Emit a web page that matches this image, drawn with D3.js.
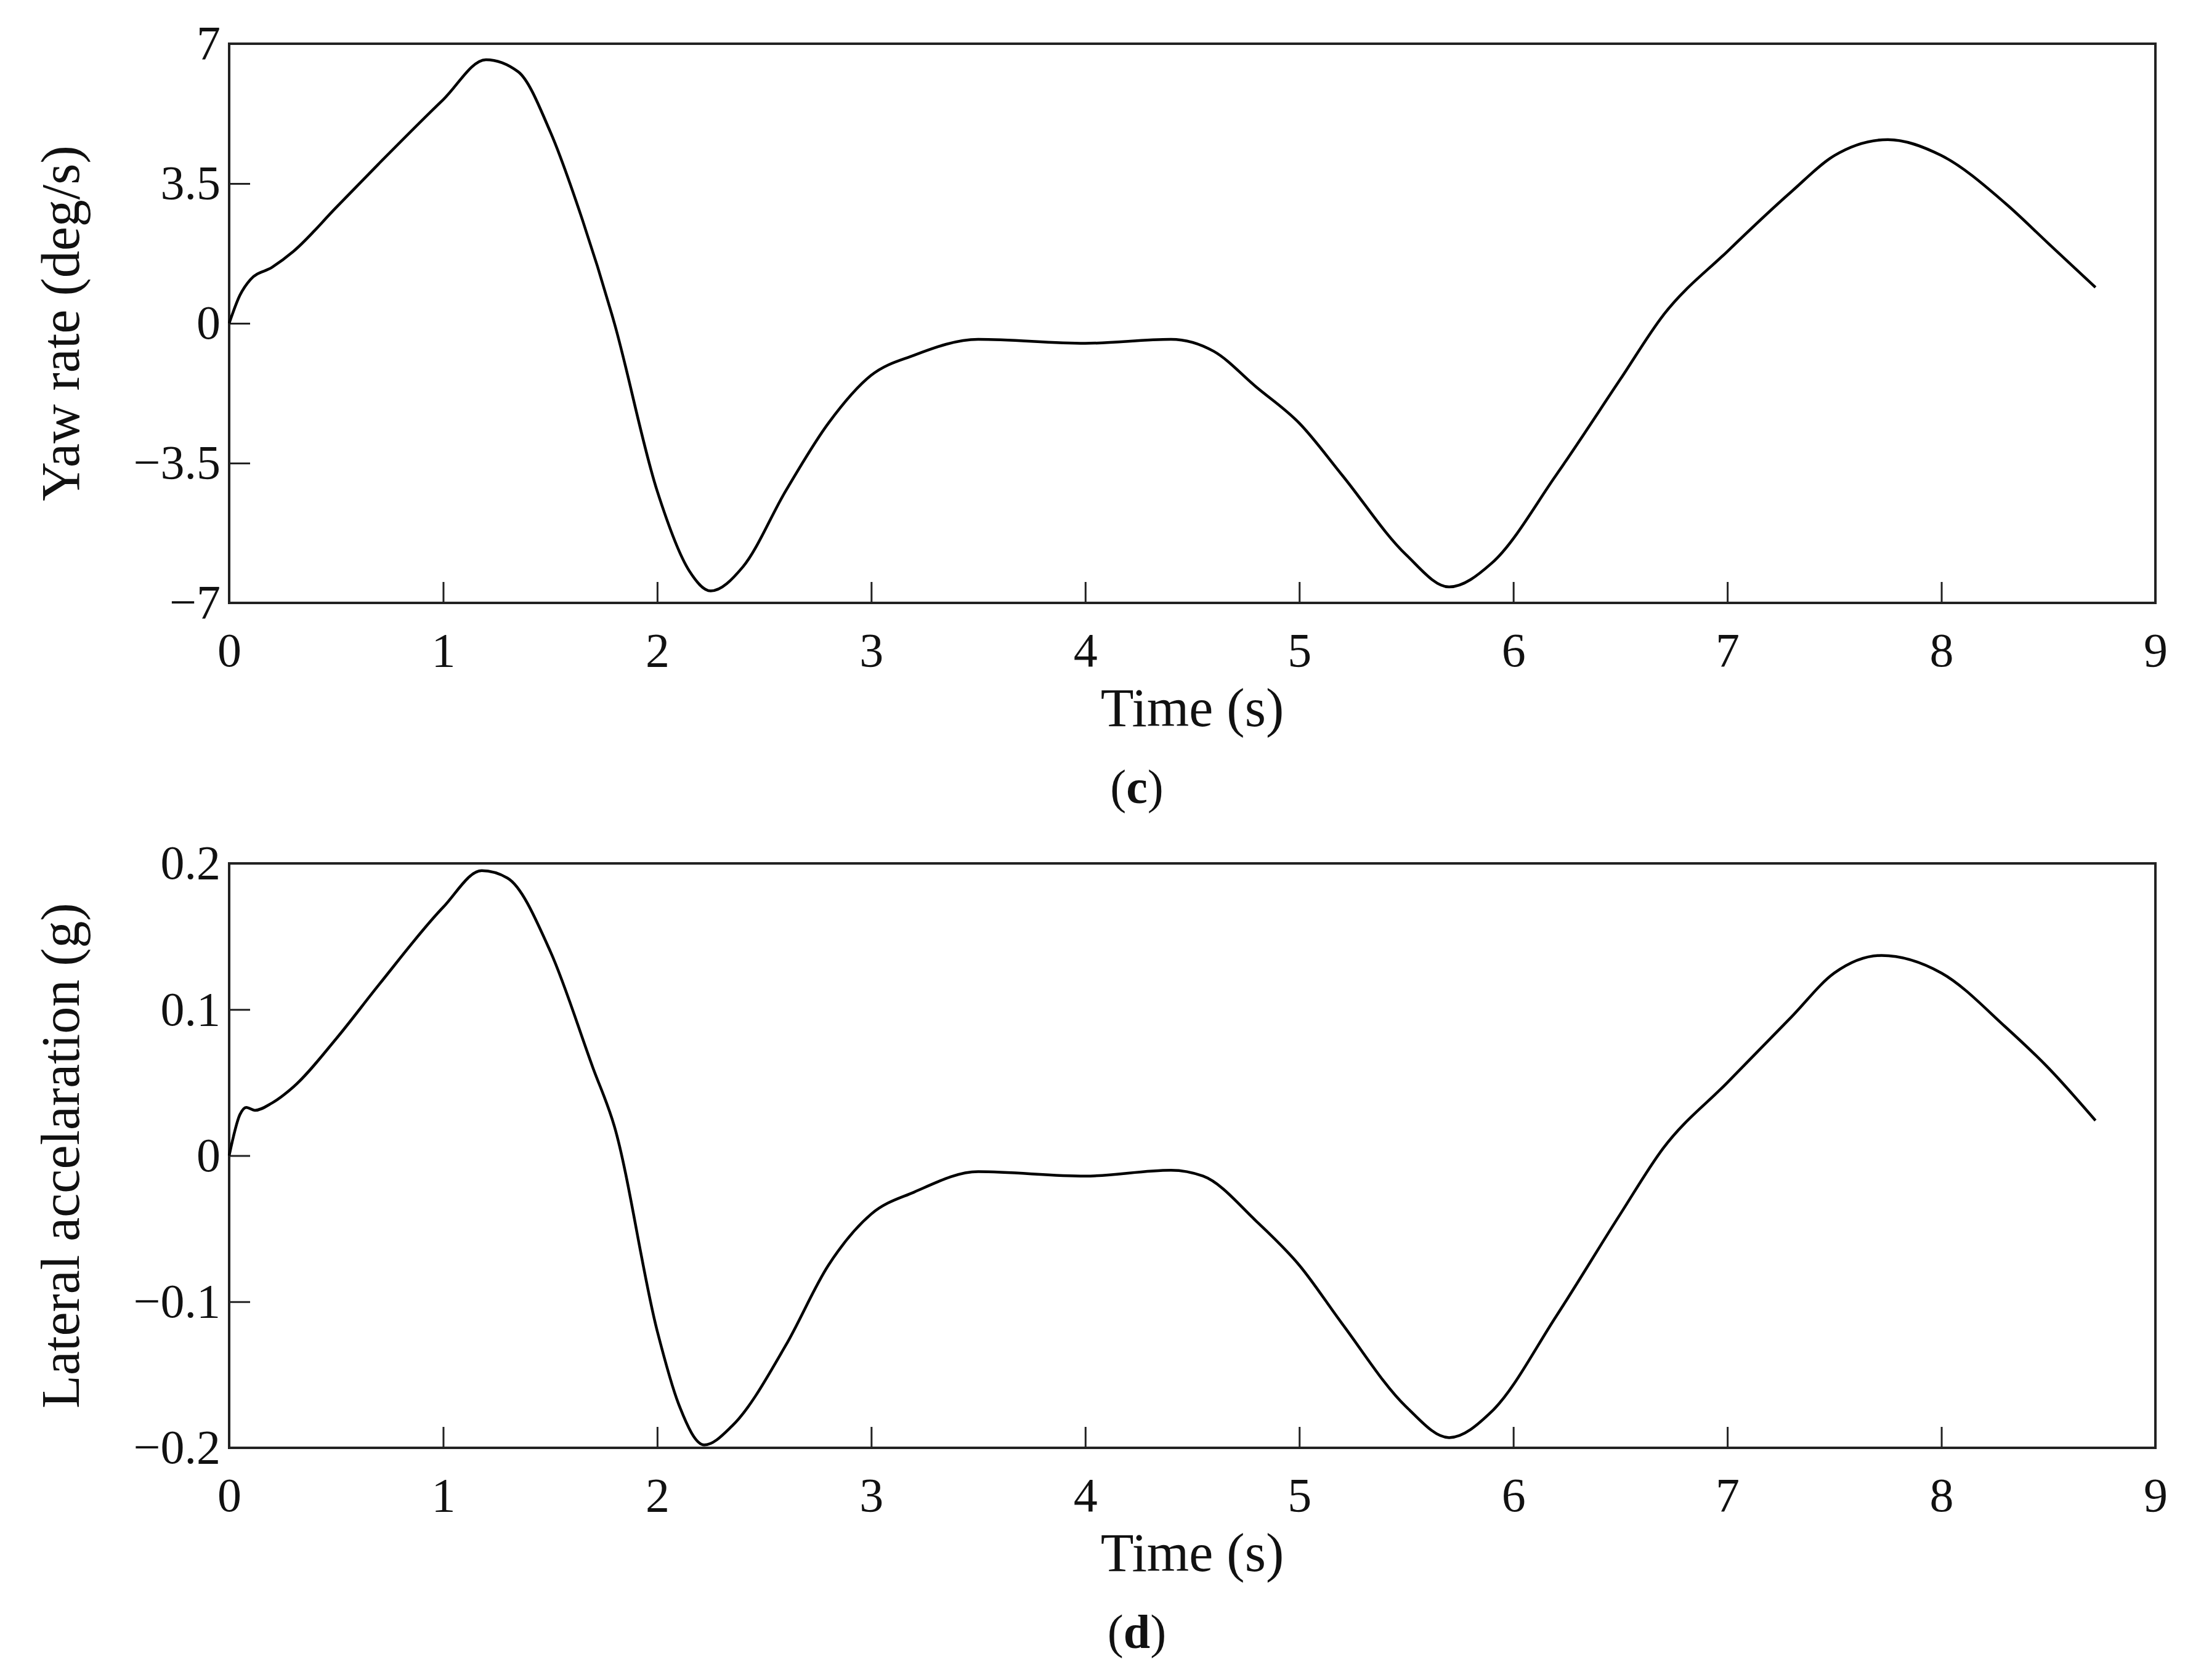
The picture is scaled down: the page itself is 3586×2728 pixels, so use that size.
<!DOCTYPE html>
<html>
<head>
<meta charset="utf-8">
<script src="https://cdn.jsdelivr.net/npm/d3@7"></script>
<style>
  body { margin: 0; background: #fff; }
  text { font-family: "Liberation Serif", "DejaVu Serif", serif; fill: #111; }
</style>
</head>
<body>
<div id="chart"></div>
<script>
// time samples (s) and values
const timeYaw = [0, 0.05, 0.1, 0.2, 0.3, 0.5, 0.7, 1.0, 1.2, 1.35, 1.5, 1.65, 1.8, 2.0, 2.15, 2.25, 2.4, 2.6, 2.8, 3.0, 3.2, 3.5, 4.0, 4.4, 4.6, 4.8, 5.0, 5.2, 5.5, 5.7, 5.9, 6.2, 6.5, 6.7, 7.0, 7.3, 7.5, 7.75, 8.0, 8.3, 8.5, 8.72];
const yawRate = [0, 0.7, 1.1, 1.4, 1.8, 2.9, 4.0, 5.6, 6.6, 6.3, 4.8, 2.6, 0, -4.2, -6.2, -6.7, -6.1, -4.2, -2.5, -1.3, -0.8, -0.4, -0.5, -0.4, -0.7, -1.6, -2.5, -3.8, -5.8, -6.6, -6.0, -3.8, -1.4, 0.2, 1.8, 3.3, 4.2, 4.6, 4.2, 3.0, 2.0, 0.9];

const timeAcc = [0, 0.05, 0.08, 0.12, 0.2, 0.3, 0.5, 0.7, 1.0, 1.18, 1.3, 1.5, 1.7, 1.8, 2.0, 2.1, 2.22, 2.35, 2.6, 2.8, 3.0, 3.2, 3.5, 4.0, 4.4, 4.55, 4.8, 5.0, 5.2, 5.5, 5.7, 5.9, 6.2, 6.5, 6.7, 7.0, 7.3, 7.5, 7.72, 8.0, 8.3, 8.5, 8.72];
const latAcc = [0, 0.028, 0.033, 0.031, 0.036, 0.047, 0.08, 0.117, 0.17, 0.195, 0.19, 0.14, 0.06, 0.02, -0.12, -0.17, -0.198, -0.185, -0.13, -0.075, -0.04, -0.025, -0.011, -0.014, -0.010, -0.014, -0.045, -0.075, -0.115, -0.172, -0.193, -0.175, -0.11, -0.04, 0.005, 0.05, 0.095, 0.125, 0.137, 0.125, 0.088, 0.06, 0.024];

const xTicks = [0, 1, 2, 3, 4, 5, 6, 7, 8, 9];
const yawTicks = [-7, -3.5, 0, 3.5, 7];
const accTicks = [-0.2, -0.1, 0, 0.1, 0.2];

const W = 3586, H = 2728;
const svg = d3.select('#chart').append('svg').attr('width', W).attr('height', H);

const fmt = v => (v < 0 ? '\u2212' : '') + Math.abs(v);

function panel(top, bottom, xs, ys, domain, ticks, ylabel, tag) {
    const left = 372, right = 3499;
    const x = d3.scaleLinear().domain([0, 9]).range([left, right]);
    const y = d3.scaleLinear().domain(domain).range([bottom, top]);
    const g = svg.append('g');

    g.append('g').attr('transform', `translate(0,${bottom})`)
        .call(d3.axisBottom(x).tickValues(xTicks).tickSizeInner(-34).tickSizeOuter(0).tickPadding(48).tickFormat(d3.format('d')))
        .call(a => a.select('.domain').remove());
    g.append('g').attr('transform', `translate(${left},0)`)
        .call(d3.axisLeft(y).tickValues(ticks).tickSizeInner(-34).tickSizeOuter(0).tickPadding(14).tickFormat(fmt))
        .call(a => a.select('.domain').remove());
    g.selectAll('.tick line').attr('stroke', '#222').attr('stroke-width', 3);
    g.selectAll('.tick text').attr('font-size', 78).attr('fill', '#111')
        .style('font-family', '"Liberation Serif", serif');

    g.append('rect').attr('x', left).attr('y', top).attr('width', right - left).attr('height', bottom - top)
        .attr('fill', 'none').attr('stroke', '#222').attr('stroke-width', 4);

    const line = d3.line().x((d, i) => x(xs[i])).y(d => y(d)).curve(d3.curveMonotoneX);
    g.append('path').datum(ys).attr('d', line).attr('fill', 'none').attr('stroke', '#000').attr('stroke-width', 4.5);

    g.append('text').attr('x', (left + right) / 2).attr('y', bottom + 200).attr('text-anchor', 'middle')
        .attr('font-size', 88).text('Time (s)');
    g.append('text').attr('transform', `translate(128,${(top + bottom) / 2}) rotate(-90)`).attr('text-anchor', 'middle')
        .attr('font-size', 88).text(ylabel);
    const t = g.append('text').attr('x', (left + right) / 2 - 90).attr('y', bottom + 325).attr('text-anchor', 'middle').attr('font-size', 78);
    t.append('tspan').text('(');
    t.append('tspan').attr('font-weight', 'bold').text(tag);
    t.append('tspan').text(')');
}

panel(71, 979, timeYaw, yawRate, [-7, 7], yawTicks, 'Yaw rate (deg/s)', 'c');
panel(1402, 2351, timeAcc, latAcc, [-0.2, 0.2], accTicks, 'Lateral accelaration (g)', 'd');
</script>
</body>
</html>
